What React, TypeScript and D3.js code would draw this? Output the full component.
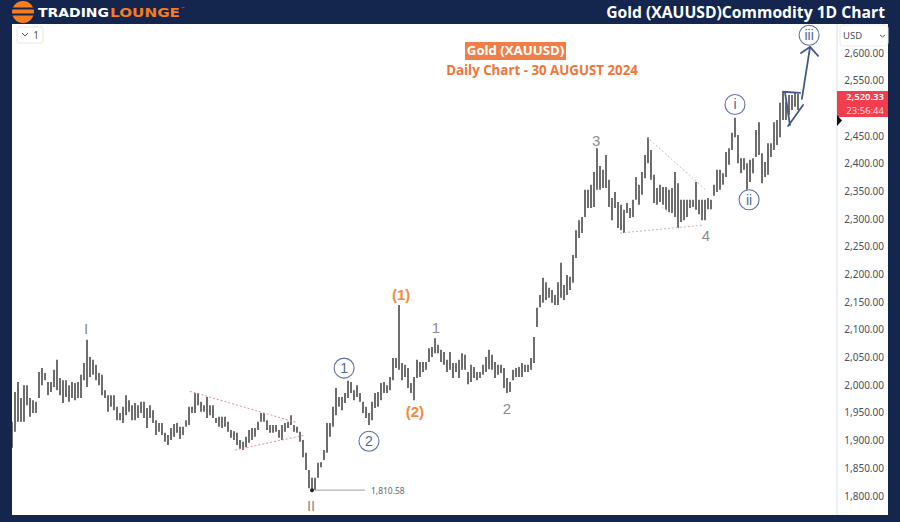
import React from "react";
import * as d3 from "d3";

const highs = [1934,1988,2006,1977,2000,2000,1977,1973,1970,2024,2031,2022,2006,2006,2028,2046,2013,2009,2009,2000,2006,2004,2006,2019,2040,2082,2051,2046,2037,2022,2019,1991,1982,1982,1982,1961,1950,1961,1982,1973,1964,1968,1964,1970,1970,1959,1964,1955,1937,1932,1932,1914,1910,1923,1930,1932,1925,1925,1937,1961,1961,1986,1986,1970,1964,1979,1964,1964,1941,1943,1943,1943,1934,1919,1917,1914,1901,1898,1907,1919,1923,1923,1934,1950,1950,1937,1928,1928,1928,1919,1928,1932,1934,1946,1928,1925,1916,1901,1878,1847,1833,1833,1860,1861,1883,1932,1932,1961,1995,1979,1979,1986,2008,2006,1991,2000,1986,1970,1961,1950,1970,1986,1988,2004,2006,2000,2015,2049,2049,2145,2040,2037,2031,2004,2015,2046,2042,2042,2042,2067,2069,2085,2073,2064,2060,2046,2060,2040,2040,2046,2058,2055,2024,2037,2033,2024,2024,2037,2051,2064,2055,2042,2037,2037,2031,2013,2006,2028,2031,2033,2040,2037,2037,2049,2087,2140,2163,2194,2186,2176,2172,2163,2186,2221,2181,2199,2196,2235,2280,2298,2304,2353,2353,2362,2385,2428,2396,2389,2416,2371,2338,2349,2331,2326,2317,2329,2320,2335,2376,2362,2385,2416,2448,2425,2380,2356,2362,2358,2358,2353,2356,2385,2365,2335,2335,2335,2335,2335,2367,2335,2335,2335,2338,2335,2362,2389,2389,2383,2421,2428,2456,2483,2452,2410,2410,2401,2407,2410,2461,2475,2419,2403,2437,2437,2475,2479,2510,2530,2512,2524,2524,2528,2526];

const lows = [1887,1916,1934,1934,1934,1964,1943,1950,1950,1977,2000,2009,1982,1988,1997,1991,1982,1968,1979,1970,1977,1973,1977,1977,2009,1997,2015,2019,2009,2000,1982,1977,1952,1961,1955,1937,1937,1932,1946,1952,1937,1937,1941,1950,1941,1923,1941,1932,1910,1916,1910,1898,1892,1901,1907,1914,1903,1910,1925,1928,1950,1950,1964,1952,1952,1941,1946,1941,1932,1925,1923,1925,1916,1905,1901,1892,1885,1883,1888,1896,1901,1907,1919,1934,1934,1919,1914,1914,1916,1905,1901,1916,1923,1928,1916,1914,1898,1870,1847,1814,1810.58,1811,1833,1852,1865,1878,1907,1925,1946,1961,1955,1968,1977,1986,1973,1979,1970,1950,1941,1928,1937,1959,1961,1973,1986,1986,1991,2009,2031,2028,2009,2015,1995,1986,1973,2013,2015,2024,2028,2042,2051,2058,2058,2042,2037,2024,2028,2013,2024,2013,2028,2028,2002,2006,2013,2009,2013,2019,2024,2029,2028,2013,2019,2022,1995,1986,1988,2009,2015,2015,2015,2024,2024,2028,2040,2105,2141,2149,2154,2158,2149,2145,2145,2158,2154,2163,2172,2185,2230,2266,2275,2304,2320,2320,2322,2353,2353,2356,2356,2322,2298,2320,2284,2280,2275,2311,2302,2304,2335,2326,2344,2374,2401,2371,2329,2326,2331,2326,2317,2313,2311,2304,2284,2295,2298,2304,2320,2322,2317,2309,2298,2298,2318,2318,2342,2349,2353,2362,2376,2398,2425,2448,2401,2383,2389,2353,2367,2383,2412,2416,2365,2376,2380,2412,2425,2434,2448,2479,2479,2488,2497,2503,2497];

const priceTicks = d3.range(1800, 2601, 50);
const lastPrice = 2520.33;
const pivotLow = 1810.58;
const countdown = "23:56:44";

// [session, price, text, kind]
const waveLabels: [number, number, string, string][] = [
  [24.7, 2102, "I", "gray"],
  [99.7, 1782, "II", "gray"],
  [110.7, 2031, "1", "navy"],
  [119, 1899, "2", "navy"],
  [129.7, 2163, "(1)", "orange"],
  [134.3, 1953, "(2)", "orange"],
  [141.3, 2105, "1", "gray"],
  [165, 1958, "2", "gray"],
  [194.7, 2442, "3", "gray"],
  [231.3, 2270, "4", "gray"],
  [241, 2507, "i", "navy"],
  [245.7, 2335, "ii", "navy"],
  [265.7, 2632, "iii", "navy"],
];

// [session, price, session, price]
const pinkLines: [number, number, number, number][] = [
  [59.3, 1989, 94.7, 1933],
  [74.3, 1883, 97.7, 1910],
];
const paleLines: [number, number, number, number][] = [
  [211.7, 2448, 231, 2354],
  [202.7, 2275, 230.3, 2289],
  [216.7, 2322, 219.3, 2311],
];
const navyLines: [number, number, number, number][] = [
  [257, 2530, 262.7, 2528],
  [257.7, 2528, 259.3, 2470],
  [258.7, 2468, 263.7, 2506],
  [263.3, 2517, 266, 2610],
  [263, 2600, 266, 2611],
  [266, 2611, 268.7, 2595],
];

const W = 900, H = 522;
const left = 12, right = 837, top = 24, bottom = 515;
const x = d3.scaleLinear().domain([0, 262]).range([12, 798]);
const y = d3.scaleLinear().domain([1800, 2600]).range([496, 53]);
const NAVY = "#14254e";
const ORANGE = "#f58a3c";
const LINE_NAVY = "#42598c";
const AXIS_FONT = "'Noto Sans', sans-serif";
const fmt = d3.format(",.2f");

function Wave({ l }: { l: [number, number, string, string] }) {
  const [s, p, t, kind] = l;
  const cx = x(s), cy = y(p);
  if (kind === "navy") {
    return (
      <g>
        <circle cx={cx} cy={cy} r={10} fill="#fff" stroke="#5f739f" strokeWidth={1.1} />
        <text x={cx} y={cy + 4.8} textAnchor="middle" fontFamily="'Liberation Sans'" fontSize={14} fill="#52688f">{t}</text>
      </g>
    );
  }
  const color = kind === "orange" ? ORANGE : "#8c8c8c";
  return (
    <text x={cx} y={cy + 5.5} textAnchor="middle" fontFamily="'Liberation Sans'" fontSize={15} fontWeight={kind === "orange" ? 700 : 400} fill={color}>{t}</text>
  );
}

export default function App() {
  return (
    <svg width={W} height={H} style={{ position: "fixed", left: 0, top: 0 }}>
      <defs>
        <clipPath id="plot"><rect x={left} y={top} width={right - left} height={bottom - top} /></clipPath>
        <filter id="soft" x="-2%" y="-2%" width="104%" height="104%"><feGaussianBlur stdDeviation="0.35" /></filter>
      </defs>
      <rect width={W} height={H} fill={NAVY} />
      <rect x={left} y={top} width={888 - left} height={bottom - top} fill="#fff" />
      <line x1={right} x2={right} y1={top} y2={bottom} stroke="#dcdfe6" />

      {/* header */}
      <circle cx={23} cy={12} r={11} fill="#f57c1f" />
      <rect x={12} y={7.5} width={22} height={2} fill={NAVY} />
      <rect x={12} y={13.5} width={22} height={2} fill={NAVY} />
      <text x={38} y={17} fontFamily="'DejaVu Sans'" fontWeight={700} fontSize={12} fill="#fff" textLength={71} lengthAdjust="spacingAndGlyphs">TRADING</text>
      <text x={110} y={17} fontFamily="'DejaVu Sans'" fontWeight={700} fontSize={12} fill="#f57c1f" textLength={70} lengthAdjust="spacingAndGlyphs">LOUNGE</text>
      <text x={181} y={10} fontFamily="'DejaVu Sans'" fontSize={4} fill="#f57c1f">™</text>
      <text x={885} y={18} textAnchor="end" fontFamily="'Open Sans'" fontWeight={700} fontSize={15.7} fill="#fff">Gold (XAUUSD)Commodity 1D Chart</text>

      {/* interval button */}
      <rect x={17} y={27} width={26} height={16} rx={2} fill="#fff" stroke="#e3e5ea" />
      <path d="M22 33 l3 3 l3 -3" fill="none" stroke="#555" strokeWidth={1} />
      <text x={36} y={39} textAnchor="middle" fontFamily={AXIS_FONT} fontSize={10} fill="#555">1</text>

      {/* chart title */}
      <rect x={465} y={42} width={101} height={18} fill="#ee7f48" />
      <text x={515.5} y={55} textAnchor="middle" fontFamily="'Open Sans'" fontWeight={700} fontSize={13.2} fill="#fff">Gold (XAUUSD)</text>
      <text x={542} y={75} textAnchor="middle" fontFamily="'Open Sans'" fontWeight={700} fontSize={13.3} fill="#f0743a">Daily Chart - 30 AUGUST 2024</text>

      {/* bars */}
      <g clipPath="url(#plot)">
        <g filter="url(#soft)">
          {highs.map((h, i) => (
            <line key={i} x1={x(i)} x2={x(i)} y1={y(h)} y2={y(lows[i])} stroke="#6e6e6e" strokeWidth={2} />
          ))}
        </g>
        {pinkLines.map((l, i) => (
          <line key={i} x1={x(l[0])} y1={y(l[1])} x2={x(l[2])} y2={y(l[3])} stroke="#dd8fa2" strokeWidth={1} strokeDasharray="2 2" />
        ))}
        {paleLines.map((l, i) => (
          <line key={i} x1={x(l[0])} y1={y(l[1])} x2={x(l[2])} y2={y(l[3])} stroke="#c9b9bb" strokeWidth={1} strokeDasharray="2 2" />
        ))}
        {navyLines.map((l, i) => (
          <line key={i} x1={x(l[0])} y1={y(l[1])} x2={x(l[2])} y2={y(l[3])} stroke={LINE_NAVY} strokeWidth={1.8} strokeLinecap="round" />
        ))}
      </g>

      {/* pivot callout */}
      <circle cx={x(100)} cy={y(pivotLow)} r={2} fill="#222" />
      <line x1={x(100) + 3} x2={365} y1={y(pivotLow)} y2={y(pivotLow)} stroke="#a0a0a0" strokeWidth={1} />
      <text x={371} y={y(pivotLow) + 3.5} fontFamily={AXIS_FONT} fontSize={8.5} fill="#666">{fmt(pivotLow)}</text>

      {waveLabels.map((l, i) => <Wave key={i} l={l} />)}

      {/* price axis */}
      {priceTicks.filter((t) => y(t) < 88 || y(t) > 120).map((t) => (
        <text key={t} x={884} y={y(t) + 3.5} textAnchor="end" fontFamily={AXIS_FONT} fontSize={10} fill="#4a4f5c">{fmt(t)}</text>
      ))}
      <rect x={840} y={25} width={48} height={21} rx={3} fill="#fff" stroke="#ececf0" />
      <text x={843} y={39} fontFamily={AXIS_FONT} fontSize={9.5} fill="#4a4f5c">USD</text>
      <path d="M880 35 l2.5 2 l2.5 -2" fill="none" stroke="#555" strokeWidth={1} />
      <rect x={837} y={91} width={51} height={26} fill="#f23d4f" />
      <text x={884} y={y(lastPrice) + 2.5} textAnchor="end" fontFamily={AXIS_FONT} fontWeight={600} fontSize={9.5} fill="#fff">{fmt(lastPrice)}</text>
      <text x={884} y={114} textAnchor="end" fontFamily={AXIS_FONT} fontSize={9.5} fill="#fbd5d9">{countdown}</text>
      <path d="M837 115 L842 120.5 L837 126 Z" fill="#111" />
    </svg>
  );
}
